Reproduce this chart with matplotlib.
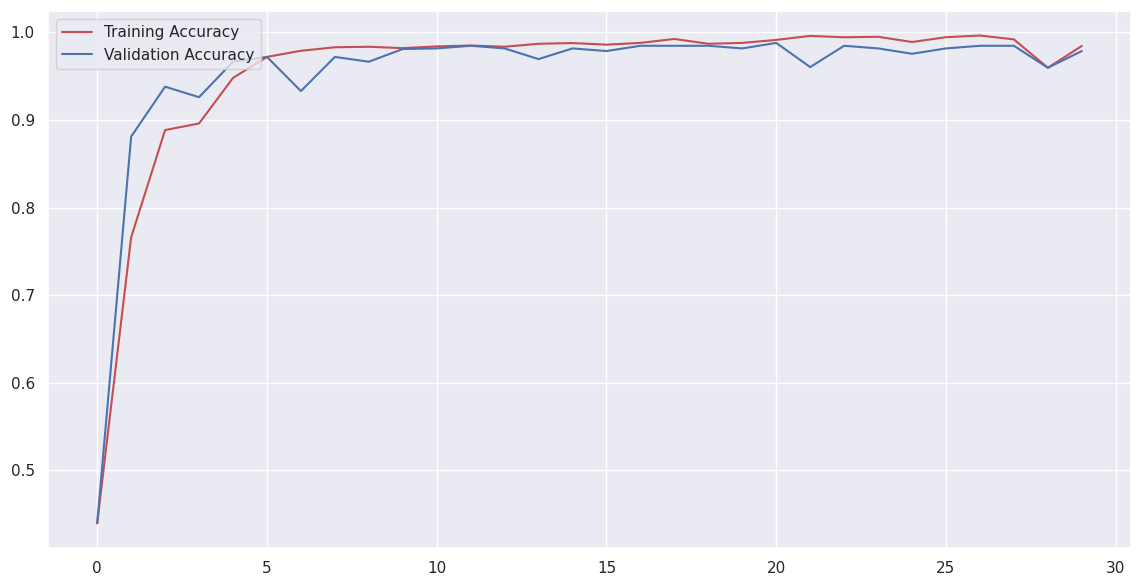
import matplotlib
matplotlib.use('Agg')
import matplotlib.pyplot as plt
import seaborn as sns

sns.set_theme()

# Accuracy per epoch
epochs = list(range(30))
train_acc = [0.4395, 0.766, 0.8885, 0.896, 0.948, 0.972, 0.979, 0.983, 0.9836, 0.982,
             0.984, 0.985, 0.9836, 0.987, 0.9878, 0.986, 0.988, 0.9925, 0.987, 0.988,
             0.9914, 0.996, 0.9944, 0.995, 0.989, 0.9945, 0.9964, 0.992, 0.9596, 0.9845]
val_acc = [0.4395, 0.881, 0.938, 0.926, 0.9665, 0.972, 0.933, 0.972, 0.9665, 0.981,
           0.9817, 0.9847, 0.9817, 0.9695, 0.9817, 0.9787, 0.9847, 0.9847, 0.9847, 0.9817,
           0.988, 0.9604, 0.9847, 0.9817, 0.9756, 0.9817, 0.9847, 0.9847, 0.9596, 0.9787]

fig, ax = plt.subplots(figsize=(11.42, 5.87), dpi=100)
fig.subplots_adjust(left=0.042, right=0.9904, top=0.981, bottom=0.067)

ax.plot(epochs, train_acc, 'r', label='Training Accuracy')
ax.plot(epochs, val_acc, 'b', label='Validation Accuracy')
ax.legend(loc='upper left')

fig.savefig('out.png')
